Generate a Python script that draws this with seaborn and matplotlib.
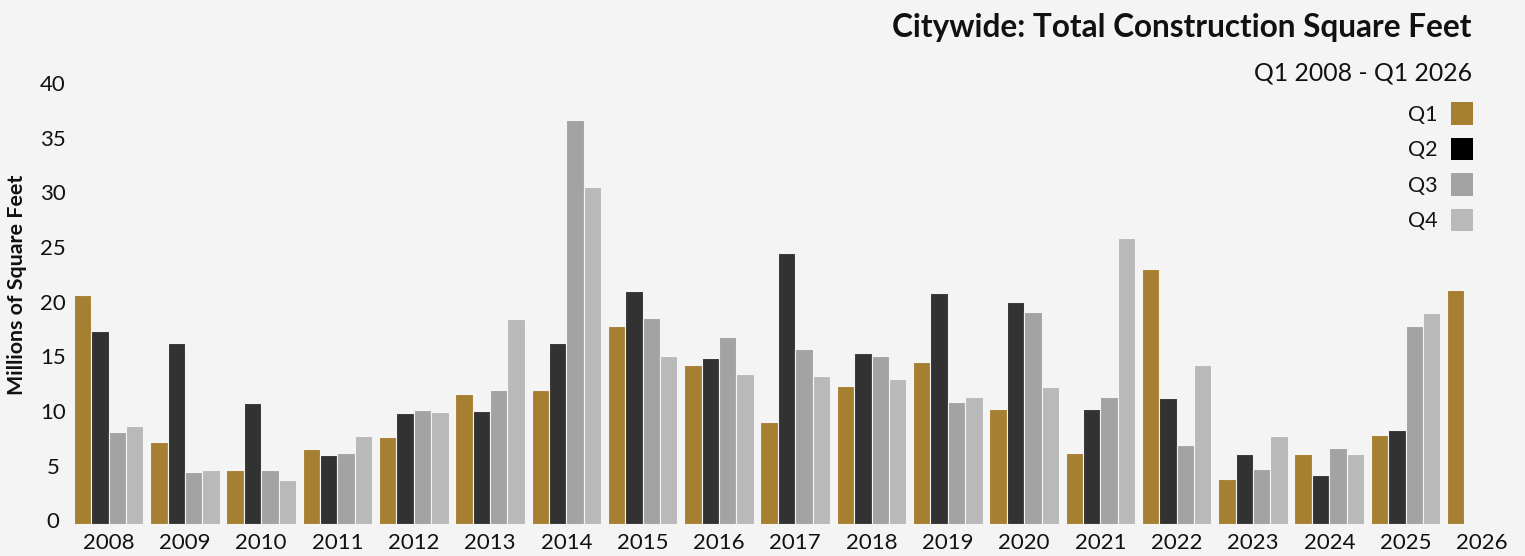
import numpy as np
import pandas as pd
import matplotlib
matplotlib.use("Agg")
import matplotlib.pyplot as plt
from matplotlib.patches import Patch
from matplotlib.transforms import blended_transform_factory, ScaledTranslation
import seaborn as sns

years = [str(y) for y in range(2008, 2027)]
quarters = ["Q1", "Q2", "Q3", "Q4"]
q1 = [20.9, 7.5, 4.9, 6.8, 7.9, 11.9, 12.2, 18.1, 14.5, 9.3, 12.6, 14.8, 10.5, 6.5, 23.3, 4.1, 6.4, 8.1, 21.4]
q2 = [17.6, 16.5, 11.0, 6.3, 10.1, 10.3, 16.5, 21.3, 15.2, 24.8, 15.6, 21.1, 20.3, 10.5, 11.5, 6.4, 4.5, 8.6]
q3 = [8.4, 4.7, 4.9, 6.5, 10.4, 12.2, 36.9, 18.8, 17.1, 16.0, 15.3, 11.1, 19.4, 11.6, 7.2, 5.0, 6.9, 18.1]
q4 = [8.9, 4.9, 4.0, 8.0, 10.2, 18.7, 30.8, 15.3, 13.7, 13.5, 13.2, 11.6, 12.5, 26.1, 14.5, 8.0, 6.4, 19.3]
yticks = [0, 5, 10, 15, 20, 25, 30, 35, 40]

bar_colors = {"Q1": "#a67f30", "Q2": "#323232", "Q3": "#a2a3a2", "Q4": "#b8b9b8"}
legend_colors = {"Q1": "#a67f30", "Q2": "#000000", "Q3": "#a2a3a2", "Q4": "#b8b9b8"}
bg = "#f3f4f3"
txt = "#111111"

rows = []
for q, vals in zip(quarters, [q1, q2, q3, q4]):
    for y, v in zip(years, vals):
        rows.append({"year": y, "quarter": q, "value": v})
df = pd.DataFrame(rows)

sns.set_theme(style="white")
plt.rcParams["font.family"] = ["Lato", "DejaVu Sans"]

W, H = 1525, 556
fig = plt.figure(figsize=(W / 100, H / 100), dpi=100)
fig.patch.set_facecolor(bg)
left_px, right_px = 72, 1520
bot_px, top_px = 523.7, 86.5
ax = fig.add_axes([left_px / W, 1 - bot_px / H, (right_px - left_px) / W, (bot_px - top_px) / H])
ax.set_facecolor(bg)

sns.barplot(data=df, x="year", y="value", hue="quarter", order=years, hue_order=quarters,
            palette=bar_colors, width=0.912, saturation=1, edgecolor=bg, linewidth=0.8,
            legend=False, ax=ax)

ax.set_xlim(-0.48, 18.5)
ax.set_ylim(0, 40)
ax.set_yticks(yticks)
ax.set_yticklabels([])
for s in ax.spines.values():
    s.set_visible(False)
ax.tick_params(axis="both", length=0, labelsize=16, colors=txt)
ax.tick_params(axis="x", pad=6.5)
ax.set_xlabel("")
ax.set_ylabel("")

# y tick labels, centred in a column left of the axes
ytrans = blended_transform_factory(fig.transFigure, ax.transData) + \
    ScaledTranslation(0, 1.5 / 100, fig.dpi_scale_trans)
for t in yticks:
    ax.text(53 / W, t, str(t), transform=ytrans, ha="center", va="center",
            fontsize=16, color=txt, clip_on=False)

fig.text(17 / W, 1 - 285 / H, "Millions of Square Feet", rotation=90, ha="center", va="center",
         fontsize=15.4, fontweight="bold", color=txt)

fig.text(1472 / W, 1 - 37 / H, "Citywide: Total Construction Square Feet", ha="right", va="baseline",
         fontsize=22.7, fontweight="bold", color=txt)
fig.text(1472 / W, 1 - 80 / H, "Q1 2008 - Q1 2026", ha="right", va="baseline",
         fontsize=17.8, color=txt)

fs = 15.5
fs_px = fs * 100 / 72
sq_w, sq_h = 22.0, 22.6
hh = (sq_h / fs_px - 0.245) / 0.65
handles = [Patch(facecolor=legend_colors[q], edgecolor="none", label=q) for q in quarters]
leg = ax.legend(handles=handles, loc="upper right", bbox_to_anchor=(1472.7 / W, 1 - 102 / H),
                bbox_transform=fig.transFigure, frameon=False, markerfirst=False,
                fontsize=fs, handlelength=sq_w / fs_px, handleheight=hh,
                handletextpad=0.62, labelspacing=0.6, borderpad=0, borderaxespad=0)
for t in leg.get_texts():
    t.set_color(txt)

fig.savefig("out.png", dpi=100, facecolor=bg)
